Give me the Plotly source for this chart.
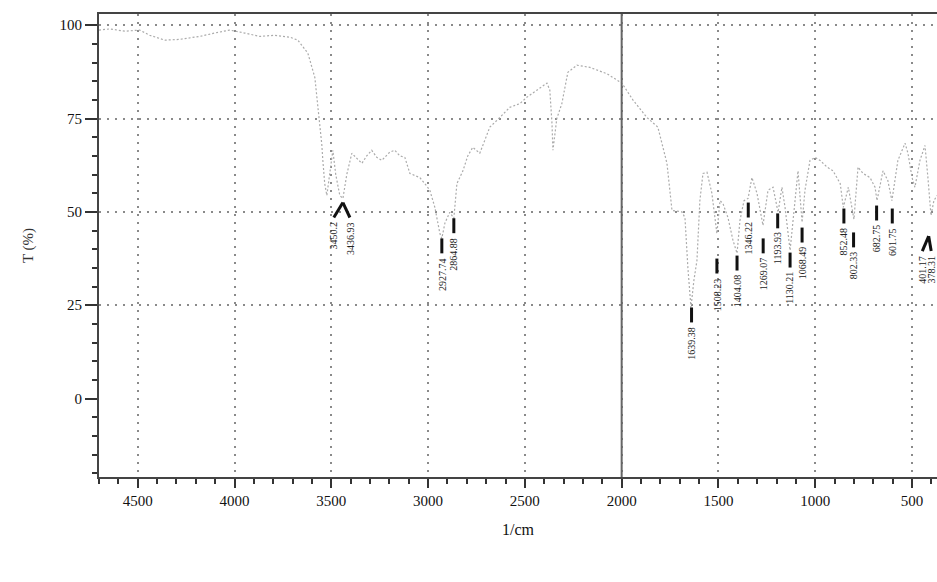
import plotly.graph_objects as go

# ---- spectrum (wavenumber 1/cm, transmittance %) ----
wavenumber = [4700, 4645, 4567, 4490, 4438, 4360, 4283, 4180, 4102, 4025, 3947, 3870, 3792, 3714,
              3673, 3621, 3585, 3570, 3559, 3549, 3544, 3534, 3523, 3508, 3492, 3477, 3456, 3440,
              3420, 3394, 3368, 3342, 3317, 3291, 3265, 3239, 3198, 3172, 3146, 3120, 3094, 3068,
              3043, 3017, 2991, 2965, 2939, 2929, 2913, 2888, 2867, 2851, 2820, 2795, 2769, 2733,
              2707, 2681, 2629, 2578, 2526, 2490, 2438, 2386, 2371, 2360, 2355, 2345, 2335, 2309,
              2278, 2231, 2164, 2076, 1999, 1942, 1870, 1813, 1766, 1740, 1689, 1673, 1658, 1642,
              1627, 1611, 1596, 1580, 1559, 1534, 1508, 1492, 1477, 1451, 1425, 1404, 1389, 1368,
              1347, 1327, 1301, 1270, 1244, 1218, 1192, 1172, 1156, 1130, 1105, 1089, 1068, 1053,
              1027, 1001, 975, 939, 908, 871, 855, 829, 800, 779, 753, 717, 691, 681, 650, 625,
              604, 573, 536, 521, 500, 485, 459, 433, 418, 402, 387, 371]
transmittance = [98.7, 99.0, 98.4, 98.7, 97.3, 96.0, 96.2, 97.0, 97.9, 98.7, 97.9, 97.0, 97.3, 96.8,
                 96.0, 92.5, 86.0, 79.0, 74.0, 68.0, 64.0, 57.6, 54.4, 60.0, 66.5, 60.0, 54.4, 53.6,
                 60.0, 65.7, 64.3, 63.0, 65.0, 66.5, 64.6, 63.8, 66.0, 66.5, 65.0, 64.6, 60.3, 59.8,
                 59.2, 57.6, 55.8, 51.2, 44.2, 42.9, 47.0, 49.9, 48.3, 57.6, 61.0, 65.0, 67.3, 65.7,
                 69.0, 72.7, 75.3, 78.0, 79.0, 80.7, 82.6, 84.5, 82.6, 73.7, 66.5, 70.5, 75.0, 79.0,
                 87.4, 89.3, 88.7, 87.0, 84.5, 80.0, 75.3, 72.7, 63.0, 50.4, 50.0, 48.5, 35.1, 24.4,
                 31.6, 37.0, 53.0, 60.3, 60.6, 55.0, 44.2, 53.0, 52.3, 48.5, 42.4, 38.9, 47.7, 53.0,
                 53.6, 59.2, 55.0, 46.4, 55.8, 56.6, 49.9, 56.6, 51.2, 39.7, 53.0, 61.0, 47.2, 55.8,
                 63.8, 64.6, 63.8, 62.0, 61.0, 57.6, 51.2, 56.6, 48.0, 62.0, 60.3, 59.2, 56.6, 53.0,
                 61.0, 58.4, 53.0, 63.8, 68.4, 65.7, 59.2, 56.6, 63.8, 67.8, 59.2, 49.0, 53.0, 54.4]

# ---- peak labels ----
peak_labels = ["3450.2", "3436.93", "2927.74", "2864.88", "1639.38", "1508.23", "1404.08",
               "1346.22", "1269.07", "1193.93", "1130.21", "1068.49", "852.48", "802.33",
               "682.75", "601.75", "401.17", "378.31"]
peak_wn = [3440, 3440, 2929, 2867, 1639, 1508, 1404, 1346, 1269, 1194, 1130, 1068, 852, 802,
           683, 602, 414, 414]
label_wn = [3487, 3404, 2929, 2867, 1639, 1508, 1404, 1346, 1269, 1194, 1130, 1068, 852, 802,
            683, 602, 447, 401]
peak_top = [52.5, 52.5, 42.9, 48.3, 24.4, 37.5, 38.3, 52.5, 42.9, 49.6, 39.1, 45.8, 50.9, 44.5,
            51.7, 50.9, 43.5, 43.5]

x_ticks = [4500, 4000, 3500, 3000, 2500, 2000, 1500, 1000, 500]
y_ticks = [0, 25, 50, 75, 100]
y_grid = [25, 50, 75, 100]
split_wn = 2000
x_range = [4700, 371]
y_range = [-21, 103]
bar_len = 4.0

fig = go.Figure()

fig.add_trace(go.Scatter(
    x=wavenumber, y=transmittance, mode="lines",
    line=dict(color="#ababab", width=1.2, dash="2px,2px"),
    hoverinfo="skip", showlegend=False))

# peak marker bars (built from the peak arrays)
bx, by = [], []
for pw, lw, top in zip(peak_wn, label_wn, peak_top):
    if abs(pw - lw) > 1:
        bx += [pw, lw, None]
        by += [top, top - bar_len, None]
    else:
        bx += [lw, lw, None]
        by += [top, top - bar_len, None]
fig.add_trace(go.Scatter(
    x=bx, y=by, mode="lines", yaxis="y2",
    line=dict(color="#111111", width=3),
    hoverinfo="skip", showlegend=False))

for lab, lw, top in zip(peak_labels, label_wn, peak_top):
    fig.add_annotation(
        x=lw, y=top - bar_len - 0.6, xref="x", yref="y",
        text=lab, showarrow=False, textangle=-90,
        xanchor="center", yanchor="top",
        font=dict(family="Liberation Serif", size=10, color="#222222"))

fig.add_vline(x=split_wn, line=dict(color="#666666", width=2))

axis_font = dict(family="Liberation Serif", size=15, color="#111111")

fig.update_layout(
    width=937, height=582,
    margin=dict(l=99, r=0, t=14, b=105),
    paper_bgcolor="white", plot_bgcolor="white",
    showlegend=False,
    xaxis=dict(
        range=x_range, tickvals=x_ticks, ticks="outside", ticklen=9, tickwidth=1.5,
        tickcolor="#333333", tickfont=axis_font,
        showline=True, linecolor="#444444", linewidth=2, mirror=True,
        showgrid=True, gridcolor="#8a8a8a", gridwidth=1.5, griddash="2px,6px",
        zeroline=False,
        minor=dict(dtick=100, tick0=0, ticks="outside", ticklen=5, tickcolor="#333333",
                   showgrid=False),
        title=dict(text="1/cm", font=dict(family="Liberation Serif", size=16, color="#111111"),
                   standoff=16),
    ),
    yaxis=dict(
        range=y_range, tickvals=y_ticks, ticks="outside", ticklen=12, tickwidth=1.5,
        tickcolor="#333333", tickfont=axis_font,
        showline=True, linecolor="#444444", linewidth=2,
        showgrid=False, zeroline=False,
        minor=dict(dtick=5, tick0=0, ticks="outside", ticklen=5, tickcolor="#333333",
                   showgrid=False),
        title=dict(text="T (%)", font=dict(family="Liberation Serif", size=15, color="#333333"),
                   standoff=22),
    ),
    yaxis2=dict(
        range=y_range, overlaying="y", tickvals=y_grid, showticklabels=False,
        ticks="", showline=False, zeroline=False,
        showgrid=True, gridcolor="#8a8a8a", gridwidth=1.5, griddash="2px,6px",
    ),
)

fig.write_html("out.html")
